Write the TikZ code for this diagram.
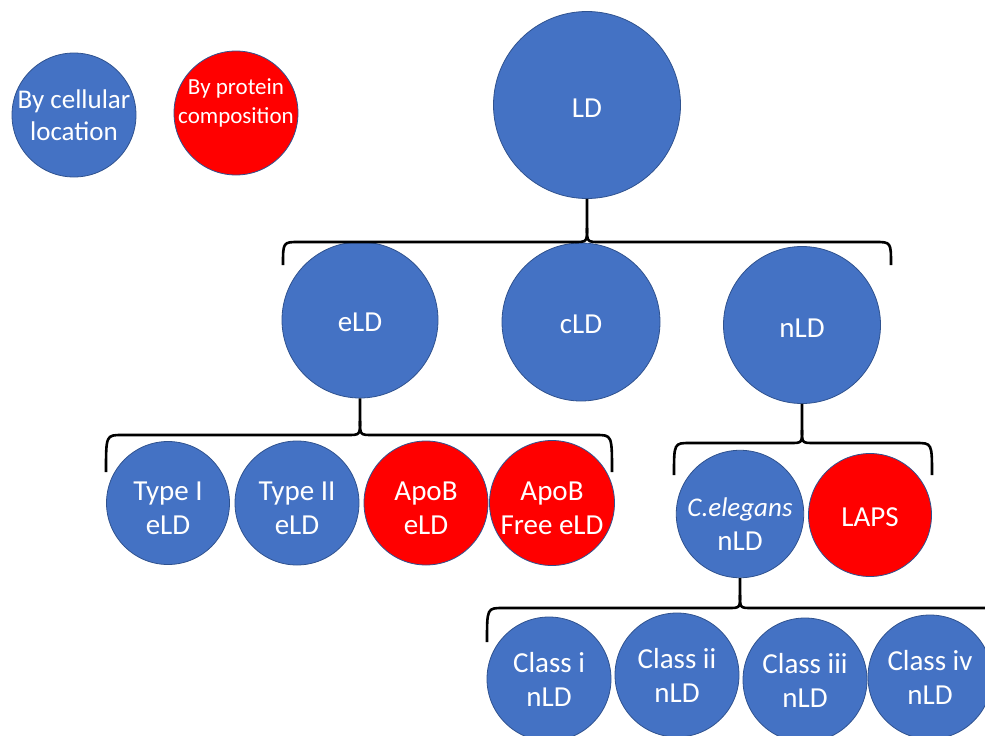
\documentclass[tikz,border=0pt]{standalone}
\usepackage{fontspec}
\setmainfont{Carlito}
\usepackage{tikz}
\definecolor{ldblue}{HTML}{4472C4}
\definecolor{ldred}{HTML}{FF0000}
\definecolor{ldedge}{HTML}{2F528F}
\newcommand{\lddrop}[1]{\rule{0pt}{#1}}

\begin{document}
\begin{tikzpicture}
[x=1pt, y=-1pt,
 ld/.style={circle, draw=ldedge, line width=0.8pt, fill=ldblue, text=white, align=center, inner sep=0pt, font=\fontsize{29}{34}\selectfont},
 protld/.style={ld, fill=ldred},
 brace/.style={line width=2.6pt, draw=black}]
\clip (0,0) rectangle (985,736);

% Legend
\node[ld, minimum size=124pt, font=\fontsize{27}{32}\selectfont] (cell) at (74,115) {By cellular\\location};
\node[protld, minimum size=124pt] (prot) at (236,113) {};
\node[text=white, align=center, font=\fontsize{23}{29}\selectfont] (prottext) at ([yshift=10pt]prot.center) {By protein\\composition};

% Top level
\node[ld, minimum size=187pt] (LD) at (587,105) {\lddrop{24pt}LD};

% Cellular location
\node[ld, minimum size=156pt] (eLD) at (360,320) {\lddrop{24pt}eLD};
\node[ld, minimum size=158pt] (cLD) at (581,322) {\lddrop{24pt}cLD};
\node[ld, minimum size=157pt] (nLD) at (802,325) {\lddrop{24pt}nLD};

% eLD subtypes
\node[ld, minimum size=123pt] (typeI) at (168,503) {\lddrop{30pt}Type I\\eLD};
\node[ld, minimum size=124pt] (typeII) at (297,503) {\lddrop{30pt}Type II\\eLD};
\node[protld, minimum size=124pt] (apoB) at (426,503) {\lddrop{30pt}ApoB\\eLD};
\node[protld, minimum size=125pt] (apoBfree) at (552,503) {\lddrop{30pt}ApoB\\Free eLD};

% nLD subtypes
\node[ld, minimum size=122pt] (celeg) at (740,514) {\lddrop{39pt}{\fontsize{27}{33}\selectfont\itshape C.elegans}\\nLD};
\node[protld, minimum size=123pt] (laps) at (870,515) {\lddrop{24pt}LAPS};

% C.elegans classes
\node[ld, minimum size=124pt] (classi) at (549,679) {Class i\\nLD};
\node[ld, minimum size=124pt] (classii) at (677,675) {Class ii\\nLD};
\node[ld, minimum size=124pt] (classiii) at (805,680) {Class iii\\nLD};
\node[ld, minimum size=124pt] (classiv) at (930,677) {Class iv\\nLD};

% Brace ends
\coordinate (b1l) at (283,265);
\coordinate (b1r) at (891,265);
\coordinate (b2l) at (106,472);
\coordinate (b2r) at (612,472);
\coordinate (b3l) at (674,475);
\coordinate (b3r) at (932,475);
\coordinate (b4l) at (487,642);
\coordinate (b4r) at (1000,608);

% Braces
\draw[brace] (b1l) .. controls (283,242) .. (299,242) -- (574,242) .. controls (587,242) .. (587,228) -- (LD.south);
\draw[brace] (b1r) .. controls (891,242) .. (875,242) -- (600,242) .. controls (587,242) .. (587,228);

\draw[brace] (b2l) .. controls (106,435) .. (122,435) -- (347,435) .. controls (360,435) .. (360,421) -- (eLD.south);
\draw[brace] (b2r) .. controls (612,435) .. (596,435) -- (373,435) .. controls (360,435) .. (360,421);

\draw[brace] (b3l) .. controls (674,443) .. (690,443) -- (790,443) .. controls (802,443) .. (802,430) -- (nLD.south);
\draw[brace] (b3r) .. controls (932,443) .. (916,443) -- (814,443) .. controls (802,443) .. (802,430);

\draw[brace] (b4l) .. controls (487,608) .. (503,608) -- (728,608) .. controls (740,608) .. (740,595) -- (celeg.south);
\draw[brace] (b4r) -- (752,608) .. controls (740,608) .. (740,595);
\end{tikzpicture}
\end{document}
